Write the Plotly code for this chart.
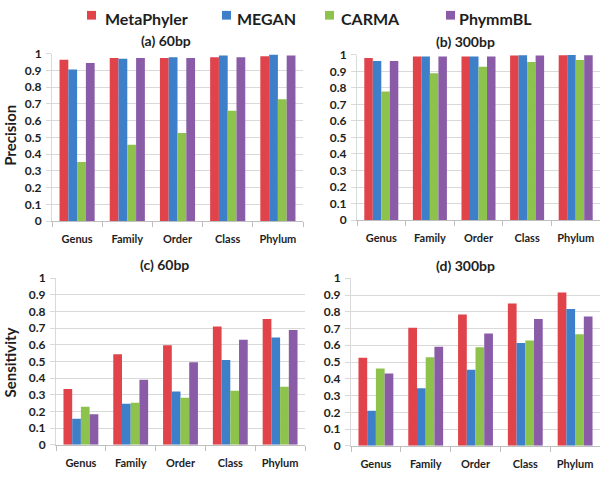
import plotly.graph_objects as go

W, H = 600, 478

categories = ["Genus", "Family", "Order", "Class", "Phylum"]
methods = ["MetaPhyler", "MEGAN", "CARMA", "PhymmBL"]
colors = ["#E0434A", "#3E7FC9", "#8DC24C", "#8A5CA8"]

# (a) Precision, 60bp
prec60_metaphyler = [0.965, 0.975, 0.975, 0.98, 0.985]
prec60_megan = [0.907, 0.97, 0.98, 0.99, 0.995]
prec60_carma = [0.354, 0.457, 0.527, 0.66, 0.728]
prec60_phymmbl = [0.945, 0.975, 0.975, 0.98, 0.99]

# (b) Precision, 300bp
prec300_metaphyler = [0.98, 0.99, 0.99, 0.995, 0.997]
prec300_megan = [0.963, 0.99, 0.99, 0.997, 0.998]
prec300_carma = [0.778, 0.888, 0.928, 0.956, 0.968]
prec300_phymmbl = [0.963, 0.99, 0.99, 0.995, 0.997]

# (c) Sensitivity, 60bp
sens60_metaphyler = [0.335, 0.544, 0.598, 0.71, 0.755]
sens60_megan = [0.157, 0.246, 0.32, 0.51, 0.644]
sens60_carma = [0.229, 0.252, 0.283, 0.324, 0.348]
sens60_phymmbl = [0.184, 0.39, 0.496, 0.631, 0.69]

# (d) Sensitivity, 300bp
sens300_metaphyler = [0.526, 0.704, 0.784, 0.849, 0.915]
sens300_megan = [0.209, 0.344, 0.454, 0.613, 0.816]
sens300_carma = [0.461, 0.528, 0.588, 0.629, 0.666]
sens300_phymmbl = [0.432, 0.591, 0.67, 0.757, 0.771]

panel_titles = ["(a) 60bp", "(b) 300bp", "(c) 60bp", "(d) 300bp"]
ytitles = ["Precision", "Sensitivity"]
ytickvals = [0, 0.1, 0.2, 0.3, 0.4, 0.5, 0.6, 0.7, 0.8, 0.9, 1]
yticktext = ["0", "0.1", "0.2", "0.3", "0.4", "0.5", "0.6", "0.7", "0.8", "0.9", "1"]

panel_data = [
    [prec60_metaphyler, prec60_megan, prec60_carma, prec60_phymmbl],
    [prec300_metaphyler, prec300_megan, prec300_carma, prec300_phymmbl],
    [sens60_metaphyler, sens60_megan, sens60_carma, sens60_phymmbl],
    [sens300_metaphyler, sens300_megan, sens300_carma, sens300_phymmbl],
]

# plot areas in pixels: (x0, x1, ytop, ybottom)
boxes = [
    (52, 303, 47.3, 220),
    (357, 600, 48.3, 219),
    (56, 305, 279, 451),
    (351, 600, 279, 452),
]

FONT = "Lato"
TXT = "#1E1E1E"
GRID = "#D9D9D9"

fig = go.Figure()
layout = {}
for i, (series, box) in enumerate(zip(panel_data, boxes)):
    n = "" if i == 0 else str(i + 1)
    xa, ya = "x" + n, "y" + n
    for m, (name, vals) in enumerate(zip(methods, series)):
        fig.add_trace(go.Bar(
            x=categories, y=vals, name=name, marker_color=colors[m],
            marker_line_width=0, xaxis=xa, yaxis=ya, showlegend=False,
            legendgroup=name,
        ))
    x0, x1, yt, yb = box
    layout["xaxis" + n] = dict(
        domain=[x0 / W, x1 / W], anchor=ya, type="category",
        range=[-0.5, 4.5], showgrid=False, showline=True, linecolor="#BFBFBF",
        linewidth=1, ticks="outside", tickson="boundaries", ticklen=5,
        tickcolor="#BFBFBF", tickfont=dict(family=FONT, size=11, color=TXT, weight="bold"),
        ticklabelstandoff=8, fixedrange=True,
    )
    layout["yaxis" + n] = dict(
        domain=[1 - yb / H, 1 - yt / H], anchor=xa, range=[0, 1],
        tickvals=ytickvals, ticktext=yticktext, showgrid=True, gridcolor=GRID,
        gridwidth=1, zeroline=False, showline=True, linecolor="#D9D9D9",
        ticks="outside", ticklen=5, tickcolor="#D9D9D9",
        tickfont=dict(family=FONT, size=12, color=TXT, weight="bold"),
        ticklabelstandoff=2, fixedrange=True,
    )

annotations = []
title_pos = [(166, 34), (466, 35), (164, 265), (466, 266)]
for t, (px, py) in zip(panel_titles, title_pos):
    annotations.append(dict(
        text=t, x=px / W, y=1 - py / H, xref="paper", yref="paper",
        xanchor="center", yanchor="middle", showarrow=False,
        font=dict(family=FONT, size=14, color=TXT, weight="bold"),
    ))
for t, py in zip(ytitles, [132, 366]):
    annotations.append(dict(
        text=t, x=10 / W, y=1 - py / H, xref="paper", yref="paper",
        xanchor="center", yanchor="middle", showarrow=False, textangle=-90,
        font=dict(family=FONT, size=15, color=TXT, weight="bold"),
    ))

# legend (keys drawn as small squares beside the labels)
legend_sq_x = [87, 222, 325, 446]
legend_txt_x = [103, 235, 339, 457]
shapes = []
for name, c, sx, tx in zip(methods, colors, legend_sq_x, legend_txt_x):
    shapes.append(dict(
        type="rect", xref="paper", yref="paper",
        x0=sx / W, x1=(sx + 9) / W, y0=1 - 12 / H, y1=1 - 3 / H,
        fillcolor=c, line=dict(width=0),
    ))
    annotations.append(dict(
        text=name, x=tx / W, y=1 - 10.5 / H, xref="paper", yref="paper",
        xanchor="left", yanchor="middle", showarrow=False,
        font=dict(family=FONT, size=16, color=TXT, weight="bold"),
    ))

fig.update_layout(
    **layout,
    width=W, height=H, margin=dict(l=0, r=0, t=0, b=0),
    paper_bgcolor="white", plot_bgcolor="white",
    barmode="group", bargap=0.3, bargroupgap=0,
    annotations=annotations, shapes=shapes,
    font=dict(family=FONT, color=TXT),
)

fig.write_html(
    "out.html",
    config={"displayModeBar": False},
    post_script="document.body.style.margin='0';document.body.style.overflow='hidden';",
)
